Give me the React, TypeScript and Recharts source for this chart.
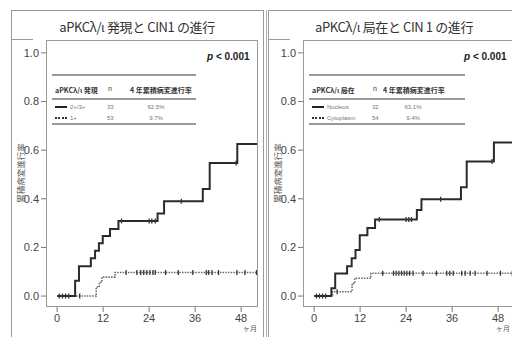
import { ComposedChart, Line, Scatter, XAxis, YAxis } from 'recharts'

// 月数 (t) と累積進行率 (y)
const monthTicks = [0, 12, 24, 36, 48]
const rateTicks = [0, 0.2, 0.4, 0.6, 0.8, 1.0]

// 左: aPKCλ/ι 発現
const exprHighT = [0, 4.7, 5.7, 8.8, 9.9, 10.9, 11.9, 13.8, 16, 26.2, 27.9, 38, 39.8, 47, 52.4]
const exprHighY = [0, 0.063, 0.123, 0.155, 0.186, 0.217, 0.247, 0.276, 0.309, 0.34, 0.39, 0.44, 0.547, 0.625, 0.625]
const exprHighCens = [0.6, 1.4, 2.2, 3, 16.8, 24, 24.7, 25.6, 32.4, 46.7]
const exprLowT = [0, 10.2, 11, 11.7, 15.1, 52.4]
const exprLowY = [0, 0.037, 0.057, 0.078, 0.097, 0.097]
const exprLowCens = [5.9, 18, 20.8, 21.8, 22.6, 23.4, 24.2, 25, 25.6, 28.3, 31.6, 35.4, 38.9, 39.5, 40.4, 42.1, 46.9, 49, 52]

// 右: aPKCλ/ι 局在
const locNucT = [0, 4.5, 5.5, 8.6, 9.8, 10.8, 11.9, 13.9, 15.9, 26.8, 28, 38.3, 39.8, 46.9, 52.4]
const locNucY = [0, 0.032, 0.093, 0.123, 0.155, 0.189, 0.25, 0.28, 0.315, 0.354, 0.398, 0.447, 0.553, 0.631, 0.631]
const locNucCens = [0.6, 1.4, 2.2, 3, 17, 24, 24.7, 25.4, 33, 46.4]
const locCytT = [0, 4.8, 9.9, 10.6, 14.8, 52.4]
const locCytY = [0, 0.018, 0.052, 0.073, 0.094, 0.094]
const locCytCens = [6, 17.9, 20.7, 21.4, 22.1, 22.8, 23.5, 24.2, 24.9, 25.8, 28.4, 31.9, 34.6, 35.4, 36.3, 38.5, 39.4, 40.7, 42, 45.1, 48.6, 51.7]

const toPoints = (ts: number[], ys: number[]) => ts.map((t, i) => ({ t, y: ys[i] }))

const valueAt = (ts: number[], ys: number[], t: number) => {
  let v = ys[0]
  for (let i = 0; i < ts.length; i++) if (ts[i] <= t) v = ys[i]
  return v
}

const censPoints = (ts: number[], ys: number[], cs: number[]) => cs.map((t) => ({ t, y: valueAt(ts, ys, t) }))

const CensorMark = (props: any) => {
  const { cx, cy, fill } = props
  if (cx == null || cy == null) return null
  return <line x1={cx} x2={cx} y1={cy - 2.5} y2={cy + 2.5} stroke={fill} strokeWidth={1.3} />
}

type Row = { label: string; n: string; pct: string; dotted?: boolean }

type PanelProps = {
  left: number
  title: string
  header: string
  rows: Row[]
  tableW: number
  nX: number
  pctHeadX: number
  unitX: number
  high: { t: number; y: number }[]
  low: { t: number; y: number }[]
  highCens: { t: number; y: number }[]
  lowCens: { t: number; y: number }[]
  rightBorder?: boolean
}

const grey = '#9a9a9a'
const ink = '#2b2b2b'
const jp = '"Noto Sans CJK JP", sans-serif'

function Panel(p: PanelProps) {
  const P = p.left + 35
  return (
    <>
      <div
        style={{
          position: 'absolute',
          left: p.left,
          top: 10,
          width: 253,
          height: 340,
          boxSizing: 'border-box',
          borderLeft: `1px solid ${grey}`,
          borderTop: `1px solid ${grey}`,
          borderRight: p.rightBorder ? `1px solid ${grey}` : 'none',
        }}
      />
      <div style={{ position: 'absolute', left: p.left, top: 39, width: 22, height: 1, background: grey }} />
      <div
        style={{
          position: 'absolute',
          left: p.left,
          top: 17,
          width: 252,
          textAlign: 'center',
          fontSize: 13,
          color: '#333',
          fontFamily: jp,
          letterSpacing: -0.4,
          lineHeight: '20px',
        }}
      >
        {p.title}
      </div>

      <div style={{ position: 'absolute', left: p.left, top: 0 }}>
        <ComposedChart width={252} height={337} margin={{ top: 40, right: 5, bottom: 0, left: 0 }}>
          <XAxis
            type="number"
            dataKey="t"
            domain={[-2.9, 52.4]}
            ticks={monthTicks}
            allowDataOverflow
            axisLine={false}
            tickLine={{ stroke: '#777' }}
            tickSize={5}
            height={30}
            tick={{ fontSize: 11, fill: '#444', fontFamily: 'Liberation Sans' }}
          />
          <YAxis
            type="number"
            dataKey="y"
            domain={[-0.045, 1.053]}
            ticks={rateTicks}
            allowDataOverflow
            axisLine={false}
            tickLine={{ stroke: '#777' }}
            tickSize={5}
            width={35}
            tickFormatter={(v: number) => v.toFixed(1)}
            tick={{ fontSize: 11, fill: '#444', fontFamily: 'Liberation Sans' }}
          />
          <Line
            data={p.low}
            dataKey="y"
            type="stepAfter"
            stroke="#6a6a6a"
            strokeWidth={1.6}
            strokeDasharray="1.5 1.2"
            dot={false}
            isAnimationActive={false}
          />
          <Line
            data={p.high}
            dataKey="y"
            type="stepAfter"
            stroke={ink}
            strokeWidth={2}
            dot={false}
            isAnimationActive={false}
          />
          <Scatter data={p.lowCens} fill="#333" shape={CensorMark} isAnimationActive={false} />
          <Scatter data={p.highCens} fill="#333" shape={CensorMark} isAnimationActive={false} />
        </ComposedChart>
      </div>

      <div
        style={{
          position: 'absolute',
          left: P,
          top: 40,
          width: 212,
          height: 267,
          boxSizing: 'border-box',
          border: `1px solid ${grey}`,
        }}
      />

      <div
        style={{
          position: 'absolute',
          left: p.left + 9 - 40,
          top: 168,
          width: 80,
          textAlign: 'center',
          transform: 'rotate(-90deg)',
          fontSize: 8.5,
          color: '#555',
          fontFamily: jp,
          lineHeight: '10px',
        }}
      >
        累積病変進行率
      </div>

      <div
        style={{
          position: 'absolute',
          left: P + 161,
          top: 51,
          fontSize: 10,
          fontWeight: 'bold',
          color: '#222',
          fontFamily: 'Liberation Sans',
        }}
      >
        <i>p</i> &lt; 0.001
      </div>

      <div
        style={{
          position: 'absolute',
          left: P + p.unitX,
          top: 324,
          fontSize: 7,
          color: '#555',
          fontFamily: jp,
          lineHeight: '9px',
          whiteSpace: 'nowrap',
        }}
      >
        ヶ月
      </div>

      {[75, 99, 124].map((y) => (
        <div
          key={y}
          style={{ position: 'absolute', left: P + 6, top: y - 1, width: p.tableW, height: 1.5, background: grey }}
        />
      ))}
      <div
        style={{
          position: 'absolute',
          left: P + 9,
          top: 85,
          fontSize: 7,
          fontWeight: 'bold',
          color: '#333',
          fontFamily: jp,
          whiteSpace: 'nowrap',
        }}
      >
        {p.header}
      </div>
      <div style={{ position: 'absolute', left: P + p.nX, top: 85, fontSize: 7, color: '#333', fontFamily: 'Liberation Sans' }}>
        n
      </div>
      <div
        style={{
          position: 'absolute',
          left: P + p.pctHeadX,
          top: 85,
          fontSize: 7,
          fontWeight: 'bold',
          color: '#333',
          fontFamily: jp,
          whiteSpace: 'nowrap',
        }}
      >
        4 年累積病変進行率
      </div>
      {p.rows.map((r, i) => {
        const y = 107 + i * 11
        const cell = { position: 'absolute' as const, top: y - 4, fontSize: 6, color: '#777', fontFamily: 'Liberation Sans', lineHeight: '8px' }
        return (
          <div key={r.label}>
            <div
              style={{
                position: 'absolute',
                left: P + 9,
                top: y - 1,
                width: 12,
                height: 0,
                borderTop: r.dotted ? '2px dotted #333' : '2px solid #222',
              }}
            />
            <div style={{ ...cell, left: P + 24 }}>{r.label}</div>
            <div style={{ ...cell, left: P + p.nX - 1 }}>{r.n}</div>
            <div style={{ ...cell, left: P + 95, width: 30, textAlign: 'center' }}>{r.pct}</div>
          </div>
        )
      })}
    </>
  )
}

export default function App() {
  return (
    <div
      style={{
        position: 'absolute',
        left: 0,
        top: 0,
        width: 512,
        height: 337,
        overflow: 'hidden',
        background: '#fff',
      }}
    >
      <Panel
        left={11}
        title="aPKCλ/ι 発現と CIN1 の進行"
        header="aPKCλ/ι 発現"
        rows={[
          { label: '2+/3+', n: '33', pct: '62.5%' },
          { label: '1+', n: '53', pct: '9.7%', dotted: true },
        ]}
        tableW={144}
        nX={62}
        pctHeadX={84}
        unitX={197}
        high={toPoints(exprHighT, exprHighY)}
        low={toPoints(exprLowT, exprLowY)}
        highCens={censPoints(exprHighT, exprHighY, exprHighCens)}
        lowCens={censPoints(exprLowT, exprLowY, exprLowCens)}
        rightBorder
      />
      <div style={{ position: 'absolute', left: 266, top: 10, width: 1, height: 327, background: '#b0b0b0' }} />
      <Panel
        left={268}
        title="aPKCλ/ι 局在と CIN 1 の進行"
        header="aPKCλ/ι 局在"
        rows={[
          { label: 'Nucleus', n: '32', pct: '63.1%' },
          { label: 'Cytoplasm', n: '54', pct: '9.4%', dotted: true },
        ]}
        tableW={156}
        nX={70}
        pctHeadX={80}
        unitX={193}
        high={toPoints(locNucT, locNucY)}
        low={toPoints(locCytT, locCytY)}
        highCens={censPoints(locNucT, locNucY, locNucCens)}
        lowCens={censPoints(locCytT, locCytY, locCytCens)}
      />
    </div>
  )
}
